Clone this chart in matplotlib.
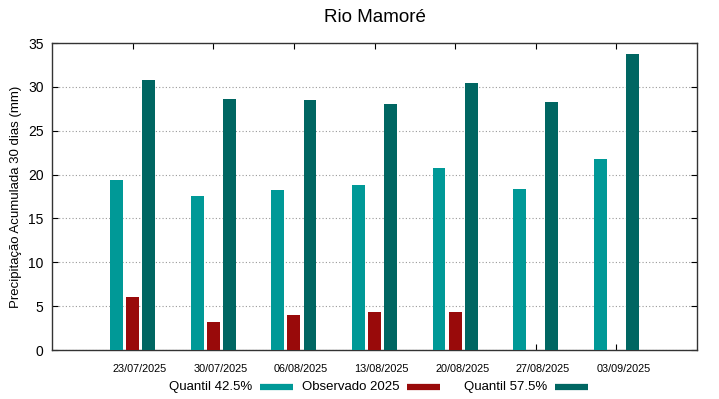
import matplotlib
matplotlib.use("Agg")
import matplotlib.pyplot as plt
from matplotlib.lines import Line2D
import numpy as np

plt.rcParams['font.family'] = ['Liberation Sans', 'DejaVu Sans']

# ================= DATA =================
datas = ["23/07/2025", "30/07/2025", "06/08/2025", "13/08/2025",
         "20/08/2025", "27/08/2025", "03/09/2025"]
q425 = [19.4, 17.6, 18.2, 18.8, 20.7, 18.3, 21.8]
obs2025 = [6.0, 3.2, 4.0, 4.3, 4.3, np.nan, np.nan]
q575 = [30.8, 28.6, 28.5, 28.0, 30.4, 28.3, 33.8]

c_q425 = "#009997"
c_obs = "#990a0a"
c_q575 = "#006662"

# ================= PLOT =================
fig = plt.figure(figsize=(7.19, 3.99), dpi=100)
ax = fig.add_axes([52 / 719, 49 / 399, 645 / 719, 307 / 399])

x = np.arange(len(datas))
w = 0.16
ax.bar(x - 0.2, q425, w, color=c_q425, zorder=3)
ax.bar(x, obs2025, w, color=c_obs, zorder=3)
ax.bar(x + 0.2, q575, w, color=c_q575, zorder=3)

ax.set_xlim(-1, 7)
ax.set_ylim(0, 35)
ax.set_yticks(np.arange(0, 36, 5))

# tick marks at the groups, labels shifted a bit to the right (as in gnuplot)
ax.set_xticks(x)
ax.set_xticklabels([])
ax.set_xticks(x + 0.087, minor=True)
ax.set_xticklabels(datas, minor=True, fontsize=7.8)
ax.tick_params(axis='x', which='minor', length=0, pad=10)
ax.tick_params(axis='x', which='major', direction='in', top=True, length=4)

ax.tick_params(axis='y', direction='in', right=True, labelsize=10, length=4, pad=6)
ax.grid(axis='y', linestyle=(0, (1, 2)), color='#999999', linewidth=0.8, zorder=0)
for s in ax.spines.values():
    s.set_color('#333333')
    s.set_linewidth(1)

ax.set_ylabel("Precipitação Acumulada 30 dias (mm)", fontsize=9.5, labelpad=4)
fig.text(374.5 / 719, 1 - 17 / 399, "Rio Mamoré", ha='center', va='center', fontsize=13.5)

# Legend (gnuplot style: text then sample)
items = [("Quantil 42.5%", c_q425, 252, 260),
         ("Observado 2025", c_obs, 400, 407),
         ("Quantil 57.5%", c_q575, 547, 555)]
ly = 1 - 387 / 399
for txt, col, xt, xs in items:
    fig.text(xt / 719, ly, txt, ha='right', va='center', fontsize=9.5)
    fig.add_artist(Line2D([xs / 719, (xs + 33) / 719], [ly, ly],
                          color=col, linewidth=4.5, solid_capstyle='butt'))

fig.savefig("out.png", dpi=100)
